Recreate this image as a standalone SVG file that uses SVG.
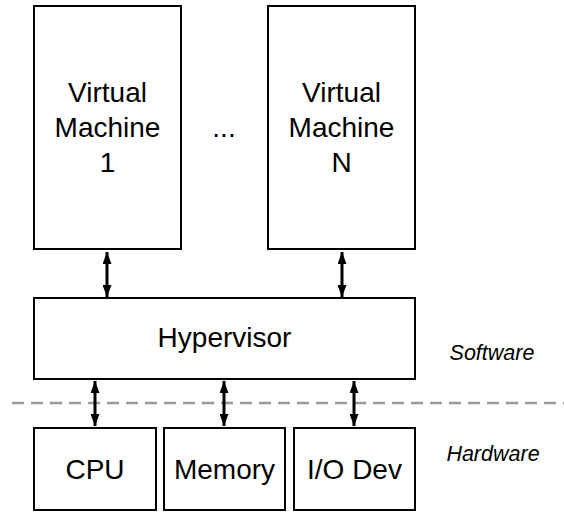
<svg xmlns="http://www.w3.org/2000/svg" width="564" height="519" viewBox="0 0 564 519">
<defs>
<marker id="ah" viewBox="0 0 12 9" refX="12" refY="4.5" markerWidth="12" markerHeight="9" markerUnits="userSpaceOnUse" orient="auto-start-reverse">
<path d="M0,0 L12,4.5 L0,9 z" fill="#000"/>
</marker>
<style>
.box{fill:#fff;stroke:#000;stroke-width:2}
.t{font-family:"Liberation Sans",Arial,Helvetica,sans-serif;font-size:28px;fill:#000;text-anchor:middle}
.it{font-family:"Liberation Sans",Arial,Helvetica,sans-serif;font-size:21.5px;font-style:italic;fill:#000;text-anchor:middle}
.con{stroke:#000;stroke-width:3;fill:none;marker-start:url(#ah);marker-end:url(#ah)}
</style>
</defs>
<rect width="564" height="519" fill="#fff"/>
<line x1="12" y1="403" x2="564" y2="403" stroke="#999" stroke-width="2.5" stroke-dasharray="12,7"/>
<g id="vm1"><rect class="box" x="34" y="6" width="147" height="243"/>
<text class="t" x="107.5" y="102">Virtual</text><text class="t" x="107.5" y="137">Machine</text><text class="t" x="107.5" y="172">1</text></g>
<g id="dots"><text class="t" x="224" y="137">...</text></g>
<g id="vmn"><rect class="box" x="268" y="6" width="147" height="243"/>
<text class="t" x="341.5" y="102">Virtual</text><text class="t" x="341.5" y="137">Machine</text><text class="t" x="341.5" y="172">N</text></g>
<g id="hypervisor"><rect class="box" x="34" y="298" width="381" height="81"/>
<text class="t" x="224.5" y="347">Hypervisor</text></g>
<g id="cpu"><rect class="box" x="34" y="428" width="122" height="82"/>
<text class="t" x="95" y="479">CPU</text></g>
<g id="memory"><rect class="box" x="164" y="428" width="121" height="82"/>
<text class="t" x="224.5" y="479">Memory</text></g>
<g id="io"><rect class="box" x="294" y="428" width="121" height="82"/>
<text class="t" x="354.5" y="479">I/O Dev</text></g>
<g id="labels"><text class="it" x="492" y="360">Software</text><text class="it" x="493" y="461">Hardware</text></g>
<g id="connectors">
<line class="con" x1="107" y1="252" x2="107" y2="297"/>
<line class="con" x1="342" y1="252" x2="342" y2="297"/>
<line class="con" x1="95" y1="381" x2="95" y2="426"/>
<line class="con" x1="224" y1="381" x2="224" y2="426"/>
<line class="con" x1="354" y1="381" x2="354" y2="426"/>
</g>
</svg>
